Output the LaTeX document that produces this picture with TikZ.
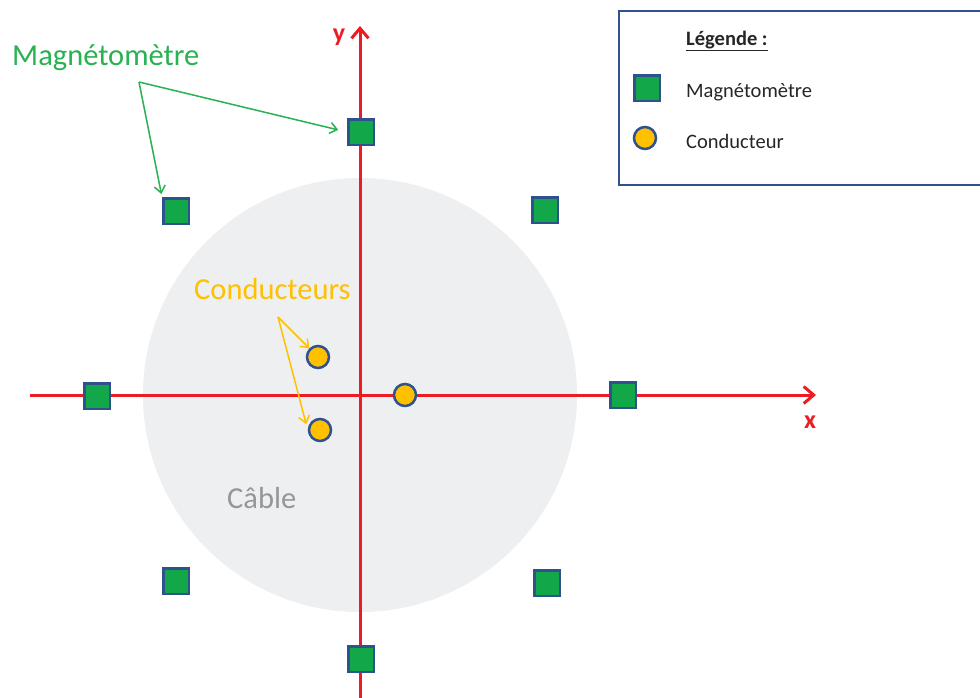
\documentclass[tikz,border=0pt]{standalone}
\usepackage{fontspec}
\setmainfont{Carlito}
\usetikzlibrary{arrows.meta}
\definecolor{axisred}{RGB}{236,28,36}
\definecolor{magfill}{RGB}{18,168,74}
\definecolor{edgeblue}{RGB}{47,82,143}
\definecolor{condfill}{RGB}{255,192,0}
\definecolor{cablegray}{RGB}{238,239,240}
\definecolor{cabletext}{RGB}{150,150,150}
\definecolor{labgreen}{RGB}{40,178,82}
\definecolor{laborange}{RGB}{255,192,0}
\begin{document}
\begin{tikzpicture}[x=1pt,y=-1pt,
  magbox/.style={draw=edgeblue,fill=magfill,line width=2.5pt,minimum size=25.5pt,inner sep=0pt},
  condcirc/.style={circle,draw=edgeblue,fill=condfill,line width=2.5pt,minimum size=22pt,inner sep=0pt},
  axisline/.style={draw=axisred,line width=3pt,-{Straight Barb[length=10pt,width=17pt,line width=3pt]}},
  biglabel/.style={font=\fontsize{30.5}{36}\selectfont,inner sep=0pt},
  leglabel/.style={font=\fontsize{20.5}{24}\selectfont,inner sep=0pt,text=black!85},
  axlabel/.style={font=\fontsize{26}{30}\selectfont\bfseries,text=axisred,inner sep=0pt},
  greenarrow/.style={draw=labgreen,line width=1.5pt,-{Straight Barb[length=7pt,width=11pt,line width=1.5pt]}},
  orangearrow/.style={draw=laborange,line width=1.5pt,-{Straight Barb[length=7pt,width=11pt,line width=1.5pt]}}
]
\useasboundingbox (0,0) rectangle (980,697);
\clip (0,0) rectangle (980,697);
\fill[white] (0,0) rectangle (980,697);
% cable
\node[circle,fill=cablegray,minimum size=434pt,inner sep=0pt] (cable) at (360,395) {};
\node[biglabel,text=cabletext,anchor=base west] (cablelab) at (227,508) {Câble};
% axes
\coordinate (xstart) at (30,395);
\coordinate (xend) at (816,395);
\coordinate (ystart) at (360,700);
\coordinate (yend) at (360,26);
\draw[axisline] (xstart) -- (xend);
\draw[axisline] (ystart) -- (yend);
\node[axlabel,anchor=base] (ylab) at (339,41) {y};
\node[axlabel,anchor=base] (xlab) at (810,428) {x};
% magnetometers
\node[magbox] (m1) at (361,132) {};
\node[magbox] (m2) at (176,211) {};
\node[magbox] (m3) at (545,210) {};
\node[magbox] (m4) at (97,396) {};
\node[magbox] (m5) at (623,395) {};
\node[magbox] (m6) at (176,581) {};
\node[magbox] (m7) at (547,583) {};
\node[magbox] (m8) at (361,659) {};
% conductors
\node[condcirc] (c1) at (318,357) {};
\node[condcirc] (c2) at (320,430) {};
\node[condcirc] (c3) at (405,395) {};
% labels
\node[biglabel,text=labgreen,anchor=base west] (maglab) at (12,65) {Magnétomètre};
\coordinate (mfork) at (139,82);
\draw[greenarrow,shorten >=9pt] (mfork) -- (m1.west);
\draw[greenarrow,shorten >=3pt] (mfork) -- (m2.north west);
\node[biglabel,text=laborange,anchor=base west] (condlab) at (194,299) {Conducteurs};
\coordinate (cfork) at (278,317);
\draw[orangearrow] (cfork) -- (c1);
\draw[orangearrow,shorten >=6pt] (cfork) -- (c2.west);
% legend
\draw[draw=edgeblue,fill=white,line width=2.5pt] (619,11) rectangle (1000,185);
\node[leglabel,anchor=base west,font=\fontsize{20.5}{24}\selectfont\bfseries] (legtitle) at (686,45) {\underline{Légende :}};
\node[magbox] (legmag) at (647,88) {};
\node[leglabel,anchor=base west] (legmaglab) at (686,97) {Magnétomètre};
\node[condcirc] (legcond) at (645,138) {};
\node[leglabel,anchor=base west] (legcondlab) at (686,148) {Conducteur};
\end{tikzpicture}
\end{document}
